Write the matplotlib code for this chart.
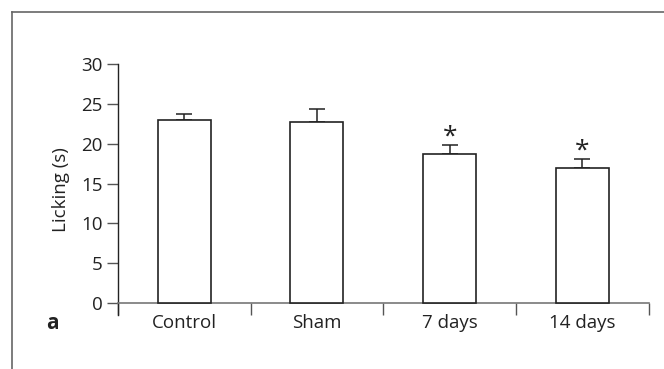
import numpy as np
import matplotlib
matplotlib.use("Agg")
import matplotlib.pyplot as plt
from matplotlib.lines import Line2D

plt.rcParams['font.family'] = ['Open Sans', 'DejaVu Sans']

# licking time per group, mean and upper error
groups = ['Control', 'Sham', '7 days', '14 days']
licking = [23.0, 22.8, 18.7, 17.0]
licking_err = [0.8, 1.6, 1.1, 1.1]
significant = [False, False, True, True]

fig = plt.figure(figsize=(6.64, 3.69), dpi=100)
ax = fig.add_axes([0.1777, 0.1463, 0.7991, 0.6794])

x = np.arange(len(groups))
ax.bar(x, licking, width=0.4, color='white', edgecolor='#222222', linewidth=1.2, zorder=3)
ax.errorbar(x, licking, yerr=[np.zeros(len(groups)), licking_err], fmt='none',
            ecolor='#222222', elinewidth=1.1, capsize=5.5, capthick=1.1, zorder=2)

for xi, val, err, sig in zip(x, licking, licking_err, significant):
    if sig:
        ax.annotate('*', xy=(xi, val + err), xytext=(0, -3), textcoords='offset points',
                    ha='center', va='bottom', fontsize=19, color='#222222')

ax.set_xlim(-0.5, len(groups) - 0.5)
ax.set_ylim(-1.5, 30)
ax.set_yticks([0, 5, 10, 15, 20, 25, 30])

# boundary ticks carry the marks, centre ticks carry the names
ax.set_xticks(np.arange(-0.5, len(groups), 1.0))
ax.set_xticklabels([])
ax.set_xticks(x, minor=True)
ax.set_xticklabels(groups, minor=True)
ax.tick_params(axis='x', which='major', length=8.5, width=1.0, color='#555555', direction='out')
ax.tick_params(axis='x', which='minor', length=0, pad=8, labelsize=13.5, labelcolor='#222222')
ax.tick_params(axis='y', length=8, width=1.0, color='#555555', pad=3,
               labelsize=13.5, labelcolor='#222222')

ax.spines['top'].set_visible(False)
ax.spines['right'].set_visible(False)
ax.spines['bottom'].set_position(('data', 0))
ax.spines['bottom'].set_color('#777777')
ax.spines['bottom'].set_linewidth(1.2)
ax.spines['left'].set_color('#222222')
ax.spines['left'].set_linewidth(1.0)

ax.set_ylabel('Licking (s)', fontsize=13.5, color='#222222', labelpad=8)
fig.text(0.079, 0.124, 'a', fontsize=15, fontweight='bold', color='#222222',
         ha='center', va='center')

# panel frame along the top and left edges
fig.add_artist(Line2D([0.018, 1.0], [0.968, 0.968], transform=fig.transFigure,
                      color='#666666', linewidth=1.2))
fig.add_artist(Line2D([0.018, 0.018], [0.0, 0.968], transform=fig.transFigure,
                      color='#666666', linewidth=1.2))

fig.savefig('out.png', dpi=100, facecolor='white')
